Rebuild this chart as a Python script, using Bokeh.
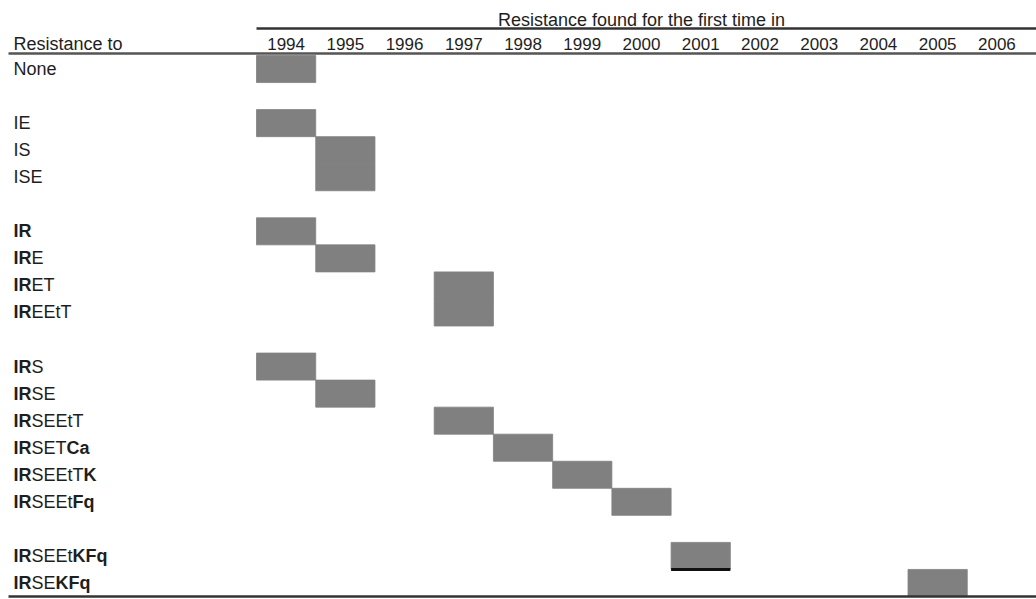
from bokeh.plotting import figure
from bokeh.models import Range1d, ColumnDataSource
from bokeh.embed import file_html
from bokeh.resources import INLINE
from bokeh.core.properties import value

# ---------------- data ----------------
years = [1994, 1995, 1996, 1997, 1998, 1999, 2000, 2001, 2002, 2003, 2004, 2005, 2006]
# **...** marks bold parts of the label
row_labels = ["None", "", "IE", "IS", "ISE", "",
              "**IR**", "**IR**E", "**IR**ET", "**IR**EEtT", "",
              "**IR**S", "**IR**SE", "**IR**SEEtT", "**IR**SET**Ca**", "**IR**SEEtT**K**",
              "**IR**SEEt**Fq**", "", "**IR**SEEt**KFq**", "**IR**SE**KFq**"]
first_year = [1994, None, 1994, 1995, 1995, None,
              1994, 1995, 1997, 1997, None,
              1994, 1995, 1997, 1998, 1999,
              2000, None, 2001, 2005]
underlined_rows = ["IRSEEtKFq"]
header_title = "Resistance found for the first time in"
row_header = "Resistance to"

# ---------------- geometry ----------------
W, H = 1036, 599
grid_left = 256.0
col_w = 59.23
row_top = 55.0
row_h = 27.05

x_start = years[0] - 0.5 - grid_left / col_w
x_end = x_start + W / col_w
y_top = -0.5 - row_top / row_h
y_bot = y_top + H / row_h

def px2x(px):
    return x_start + px / col_w

def px2y(py):
    return y_top + py / row_h

p = figure(width=W, height=H, x_range=Range1d(x_start, x_end),
           y_range=Range1d(y_bot, y_top), output_backend="svg",
           toolbar_location=None, min_border=0,
           x_axis_location=None, y_axis_location=None)
p.grid.visible = False
p.outline_line_color = None
p.background_fill_color = "white"
p.border_fill_color = "white"

FONT = "Liberation Sans"
TXT = "#1e1e1e"
BAR = "#808080"

# ---------------- bars ----------------
plain = [l.replace("**", "") for l in row_labels]
bl, br, bt, bb = [], [], [], []
ul, ur, uy = [], [], []
for i, yr in enumerate(first_year):
    if yr is None:
        continue
    bl.append(yr - 0.5); br.append(yr + 0.5)
    bt.append(i - 0.5); bb.append(i + 0.5)
    if plain[i] in underlined_rows:
        ul.append(yr - 0.5); ur.append(yr + 0.5); uy.append(i + 0.5)
p.quad(left=bl, right=br, top=bt, bottom=bb, fill_color=BAR,
       line_color=BAR, line_width=0.8)
p.segment(x0=ul, x1=ur, y0=uy, y1=uy, line_color="#111111", line_width=3)

# ---------------- rules ----------------
p.segment(x0=[px2x(256)], x1=[px2x(1036)], y0=[px2y(28)], y1=[px2y(28)],
          line_color="#333333", line_width=2.5)
p.segment(x0=[px2x(8)], x1=[px2x(1036)], y0=[px2y(53)], y1=[px2y(53)],
          line_color="#555555", line_width=2.5)
yb = len(row_labels) - 0.5
p.segment(x0=[px2x(8)], x1=[px2x(1036)], y0=[yb], y1=[yb],
          line_color="#333333", line_width=2.5)

# ---------------- header texts ----------------
p.text(x=[(years[0] + years[-1]) / 2], y=[px2y(19)], text=[header_title],
       text_font=value(FONT), text_font_size="18px", text_color=TXT,
       text_align="center", text_baseline="middle")
p.text(x=years, y=[px2y(43)] * len(years), text=[str(y) for y in years],
       text_font=value(FONT), text_font_size="17px", text_color=TXT,
       text_align="center", text_baseline="middle")
p.text(x=[px2x(13)], y=[px2y(43)], text=[row_header],
       text_font=value(FONT), text_font_size="18px", text_color=TXT,
       text_align="left", text_baseline="middle")

# ---------------- row labels (mixed bold / normal) ----------------
REG = {"I": 278, "R": 722, "S": 667, "E": 667, "T": 611, "C": 722, "a": 556,
       "K": 667, "F": 611, "q": 556, "t": 278, "N": 722, "o": 556, "n": 556, "e": 556}
BOLD = {"I": 278, "R": 722, "S": 667, "E": 667, "T": 611, "C": 722, "a": 611,
        "K": 722, "F": 611, "q": 611, "t": 333}
fs = 18
seg = {"normal": dict(x=[], y=[], t=[]), "bold": dict(x=[], y=[], t=[])}
for i, lab in enumerate(row_labels):
    if not lab:
        continue
    parts = lab.split("**")
    off = 13.0
    for k, part in enumerate(parts):
        if not part:
            continue
        style = "bold" if k % 2 == 1 else "normal"
        seg[style]["x"].append(px2x(off))
        seg[style]["y"].append(i)
        seg[style]["t"].append(part)
        table = BOLD if style == "bold" else REG
        off += sum(table.get(c, 556) for c in part) * fs / 1000.0
for style, d in seg.items():
    p.text(x=d["x"], y=d["y"], text=d["t"], text_font=value(FONT),
           text_font_size=f"{fs}px", text_font_style=style, text_color=TXT,
           text_align="left", text_baseline="middle")

open("out.html", "w").write(file_html(p, INLINE))
